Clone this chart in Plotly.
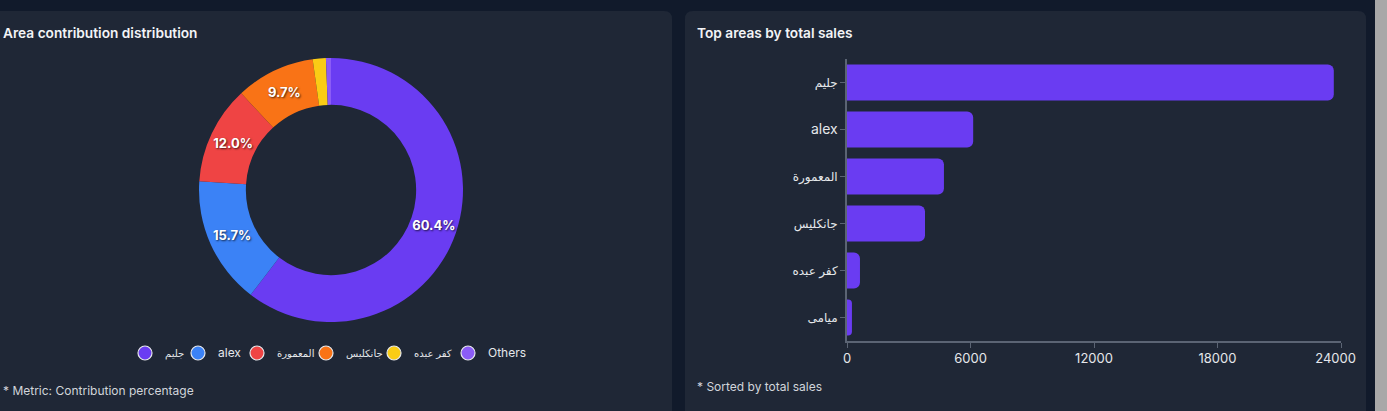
import plotly.graph_objects as go

# ---- data ----
areas = ["جليم", "alex", "المعمورة", "جانكليس", "كفر عبده", "ميامى"]
sales = [23650, 6130, 4710, 3790, 630, 240]

pie_labels = ["جليم", "alex", "المعمورة", "جانكليس", "كفر عبده", "Others"]
pie_values = sales[:5] + [sum(sales[5:])]
pie_colors = ["#6a3cf2", "#3b82f6", "#ef4444", "#f97316", "#facc15", "#8b5cf6"]

x_ticks = [0, 6000, 12000, 18000, 24000]

W, H = 1387, 411
OUTER_BG = "#111a2b"
PANEL_BG = "#1f2736"
FONT = "Inter, DejaVu Sans, sans-serif"

# pixel x of each legend entry's symbol (layout only)
LEGEND_SYMBOL_X = [145, 198, 257, 326, 394, 468]
LEGEND_Y = 353
SYMBOL_OFFSET = 20  # approx distance from legend box left to symbol centre


def px(x):
    return x / W


def py(y):
    return 1 - y / H


def is_arabic(s):
    return any("\u0600" <= ch <= "\u06ff" for ch in s)


def sized(s, ar_size, lat_size):
    size = ar_size if is_arabic(s) else lat_size
    return f'<span style="font-size:{size}px">{s}</span>'


def rounded_panel(x0, y0, x1, y1, r=8):
    rx, ry = r / W, r / H
    X0, X1 = px(x0), px(x1)
    Y0, Y1 = py(y0), py(y1)  # Y0 top, Y1 bottom
    path = (f"M {X0+rx},{Y0} L {X1-rx},{Y0} Q {X1},{Y0} {X1},{Y0-ry} "
            f"L {X1},{Y1+ry} Q {X1},{Y1} {X1-rx},{Y1} L {X0+rx},{Y1} "
            f"Q {X0},{Y1} {X0},{Y1+ry} L {X0},{Y0-ry} Q {X0},{Y0} {X0+rx},{Y0} Z")
    return dict(type="path", path=path, xref="paper", yref="paper",
                fillcolor=PANEL_BG, line=dict(width=0), layer="below")


total = sum(pie_values)
pie_text = [f"{v / total * 100:.1f}%" if v / total >= 0.03 else "" for v in pie_values]

tick_text = [str(t) for t in x_ticks]
tick_text[-1] = tick_text[-1] + "\u00a0" * 3  # nudge last label inward

fig = go.Figure()

fig.add_trace(go.Pie(
    labels=pie_labels, values=pie_values, hole=0.645, sort=False,
    direction="clockwise", rotation=0,
    marker=dict(colors=pie_colors, line=dict(width=0)),
    text=pie_text, textinfo="text", textposition="inside",
    insidetextorientation="horizontal",
    textfont=dict(family=FONT, size=13, color="#ffffff", weight=700,
                  shadow="1px 1px 2px rgba(0,0,0,0.7)"),
    domain=dict(x=[px(199), px(463)], y=[py(322), py(58)]),
    showlegend=False, hoverinfo="label+percent", automargin=False,
))

legend_layouts = {}
for i, (lab, col) in enumerate(zip(pie_labels, pie_colors)):
    key = "legend" if i == 0 else f"legend{i + 1}"
    fig.add_trace(go.Scatter(
        x=[None], y=[None], mode="markers", name=sized(lab, 10, 12),
        marker=dict(symbol="circle", size=14, color=col,
                    line=dict(color="#e5e7eb", width=1.2)),
        xaxis="x3", yaxis="y3", showlegend=True, legend=key,
    ))
    legend_layouts[key] = dict(
        orientation="h", x=px(LEGEND_SYMBOL_X[i] - SYMBOL_OFFSET), xanchor="left",
        y=py(LEGEND_Y), yanchor="middle",
        font=dict(size=11, color="#e5e7eb"), itemwidth=30,
        bgcolor="rgba(0,0,0,0)", borderwidth=0,
    )

fig.add_trace(go.Bar(
    x=sales, y=areas, orientation="h",
    marker=dict(color="#6a3cf2", cornerradius=6, line=dict(width=0)),
    xaxis="x", yaxis="y", showlegend=False,
))

fig.update_layout(
    template="none",
    width=W, height=H, autosize=False,
    margin=dict(l=0, r=0, t=0, b=0, pad=0, autoexpand=False),
    paper_bgcolor=OUTER_BG, plot_bgcolor="rgba(0,0,0,0)",
    font=dict(family=FONT, color="#e5e7eb"),
    bargap=0.23,
    xaxis=dict(domain=[px(847), px(1341)], range=[0, 24000],
               tickvals=x_ticks, ticktext=tick_text,
               showgrid=False, zeroline=False, automargin=False,
               showline=True, linecolor="#5b6474", linewidth=1.5,
               ticks="outside", ticklen=5, tickcolor="#5b6474",
               tickfont=dict(size=13, color="#e5e7eb"),
               anchor="y"),
    yaxis=dict(domain=[py(341), py(59)], type="category",
               categoryorder="array", categoryarray=areas,
               tickvals=areas, ticktext=[sized(a, 12, 14) for a in areas],
               autorange="reversed", automargin=False,
               showgrid=False, zeroline=False,
               showline=True, linecolor="#5b6474", linewidth=1.5,
               ticks="outside", ticklen=5, tickcolor="#5b6474",
               tickfont=dict(size=13, color="#e5e7eb"),
               anchor="x"),
    xaxis3=dict(domain=[0, 0.01], visible=False, anchor="y3"),
    yaxis3=dict(domain=[0, 0.01], visible=False, anchor="x3"),
    shapes=[
        rounded_panel(-12, 11, 672, 430),
        rounded_panel(685, 11, 1366, 430),
        dict(type="rect", xref="paper", yref="paper",
             x0=px(1375), x1=1, y0=0, y1=1,
             fillcolor="#a8a8a8", line=dict(width=0), layer="below"),
    ],
    annotations=[
        dict(text="Area contribution distribution", x=px(1), y=py(33),
             xref="paper", yref="paper", xanchor="left", yanchor="middle",
             showarrow=False, font=dict(size=13.7, color="#f3f4f6", weight=600)),
        dict(text="Top areas by total sales", x=px(695), y=py(33),
             xref="paper", yref="paper", xanchor="left", yanchor="middle",
             showarrow=False, font=dict(size=13.7, color="#f3f4f6", weight=600)),
        dict(text="* Metric: Contribution percentage", x=px(1), y=py(390),
             xref="paper", yref="paper", xanchor="left", yanchor="middle",
             showarrow=False, font=dict(size=12, color="#d1d5db")),
        dict(text="* Sorted by total sales", x=px(695), y=py(386),
             xref="paper", yref="paper", xanchor="left", yanchor="middle",
             showarrow=False, font=dict(size=12, color="#d1d5db")),
    ],
    **legend_layouts,
)

fig.write_html(
    "out.html",
    config={"displayModeBar": False},
    post_script="document.body.style.margin='0';document.body.style.overflow='hidden';",
)
